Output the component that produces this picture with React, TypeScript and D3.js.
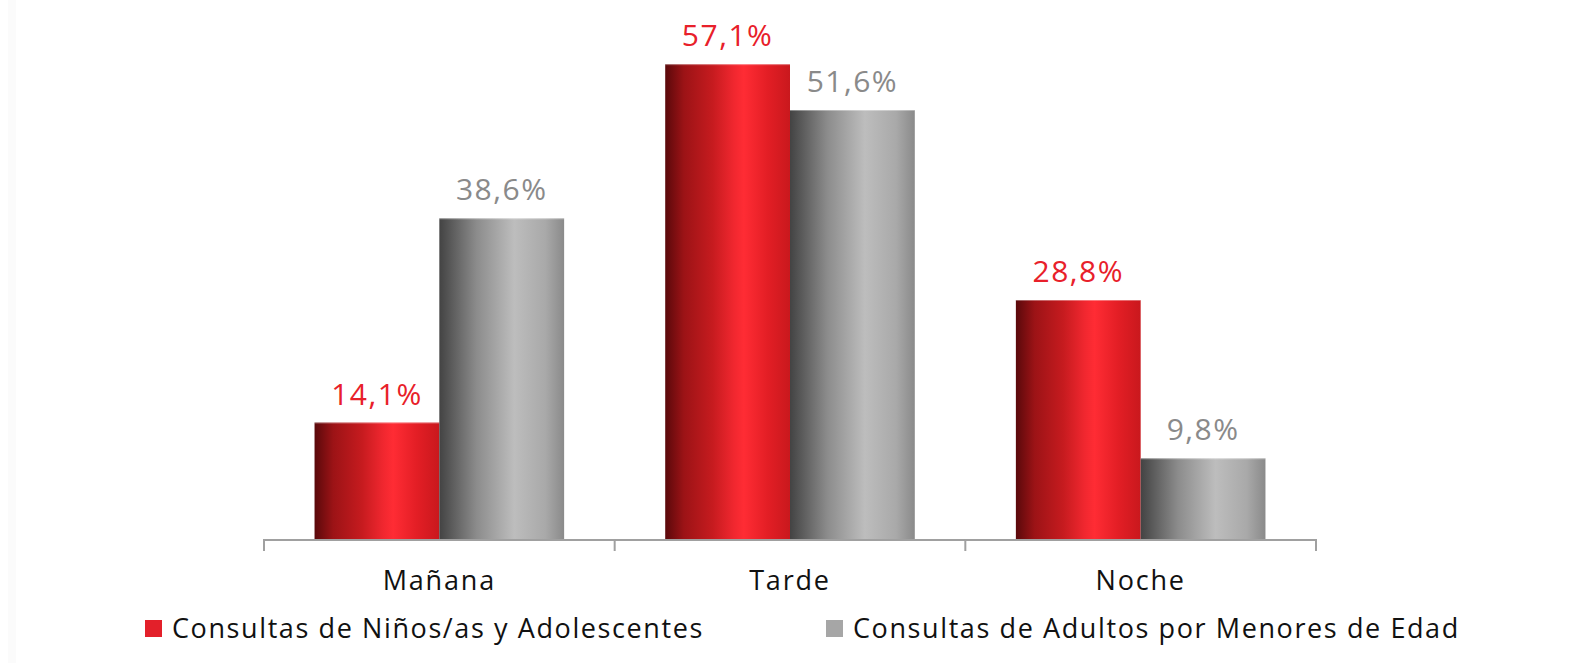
import React from "react";
import * as d3 from "d3";

const categories = ["Mañana", "Tarde", "Noche"];
const seriesNames = ["Consultas de Niños/as y Adolescentes", "Consultas de Adultos por Menores de Edad"];
const ninos = [14.1, 57.1, 28.8];
const adultos = [38.6, 51.6, 9.8];

const width = 1573;
const height = 663;
const font = "'Open Sans', Lato, sans-serif";

const BarGradients = () => (
  <defs>
    <linearGradient id="gRed" x1="0" x2="1" y1="0" y2="0">
      <stop offset="0" stopColor="#5a090b" />
      <stop offset="0.15" stopColor="#9c1316" />
      <stop offset="0.38" stopColor="#c61b1f" />
      <stop offset="0.55" stopColor="#f0272f" />
      <stop offset="0.63" stopColor="#ff2c34" />
      <stop offset="0.82" stopColor="#e31e25" />
      <stop offset="1" stopColor="#c9181d" />
    </linearGradient>
    <linearGradient id="gGray" x1="0" x2="1" y1="0" y2="0">
      <stop offset="0" stopColor="#434343" />
      <stop offset="0.3" stopColor="#8c8c8c" />
      <stop offset="0.6" stopColor="#bdbdbd" />
      <stop offset="0.85" stopColor="#a9a9a9" />
      <stop offset="1" stopColor="#8a8a8a" />
    </linearGradient>
  </defs>
);

export default function App() {
  const x0 = 264;
  const x1 = 1316;
  const x = d3.scaleBand().domain(categories).range([x0, x1]).paddingInner(0).paddingOuter(0);
  const inner = d3.scaleBand().domain(["0", "1"]).range([0, x.bandwidth()]).paddingOuter(0.405).paddingInner(0);
  const y = d3.scaleLinear().domain([0, 60]).range([540, 40]);

  const series = [
    { name: seriesNames[0], values: ninos, fill: "url(#gRed)", label: "#e8202a", swatch: "#e3202a" },
    { name: seriesNames[1], values: adultos, fill: "url(#gGray)", label: "#8a8a8a", swatch: "#a6a6a6" },
  ];
  const fmt = (v: number) => v.toFixed(1).replace(".", ",") + "%";
  const ticks = [...categories.map(c => x(c)!), x1];

  return (
    <svg width={width} height={height} style={{ position: "absolute", left: 0, top: 0, display: "block" }}>
      <BarGradients />
      <rect width={width} height={height} fill="#ffffff" />
      <rect x={8} y={0} width={8} height={height} fill="#fbfbfb" />
      {series.map((s, si) => (
        <g key={s.name}>
          {categories.map((c, i) => {
            const bx = x(c)! + inner(String(si))!;
            const bw = inner.bandwidth();
            const top = y(s.values[i]);
            return (
              <g key={c}>
                <rect x={bx} y={top} width={bw} height={y(0) - top} fill={s.fill} />
                <line x1={bx} x2={bx + bw} y1={top + 0.5} y2={top + 0.5} stroke="#ffffff" strokeOpacity={0.35} />
                <text x={bx + bw / 2} y={top - 18} textAnchor="middle" fontFamily={font} fontSize={30} letterSpacing={1.5} fill={s.label}>
                  {fmt(s.values[i])}
                </text>
              </g>
            );
          })}
        </g>
      ))}
      <line x1={x0} x2={x1} y1={y(0)} y2={y(0)} stroke="#a0a0a0" strokeWidth={2} />
      {ticks.map((t, i) => (
        <line key={i} x1={t} x2={t} y1={y(0) - 1} y2={y(0) + 11} stroke="#a0a0a0" strokeWidth={2} />
      ))}
      {categories.map(c => (
        <text key={c} x={x(c)! + x.bandwidth() / 2} y={590} textAnchor="middle" fontFamily={font} fontSize={27} letterSpacing={1.8} fill="#111">
          {c}
        </text>
      ))}
      {series.map((s, si) => {
        const lx = si === 0 ? 145 : 826;
        return (
          <g key={s.name}>
            <rect x={lx} y={620} width={17} height={17} fill={s.swatch} />
            <text x={lx + 27} y={638} fontFamily={font} fontSize={27} letterSpacing={1.6} fill="#111">
              {s.name}
            </text>
          </g>
        );
      })}
    </svg>
  );
}
